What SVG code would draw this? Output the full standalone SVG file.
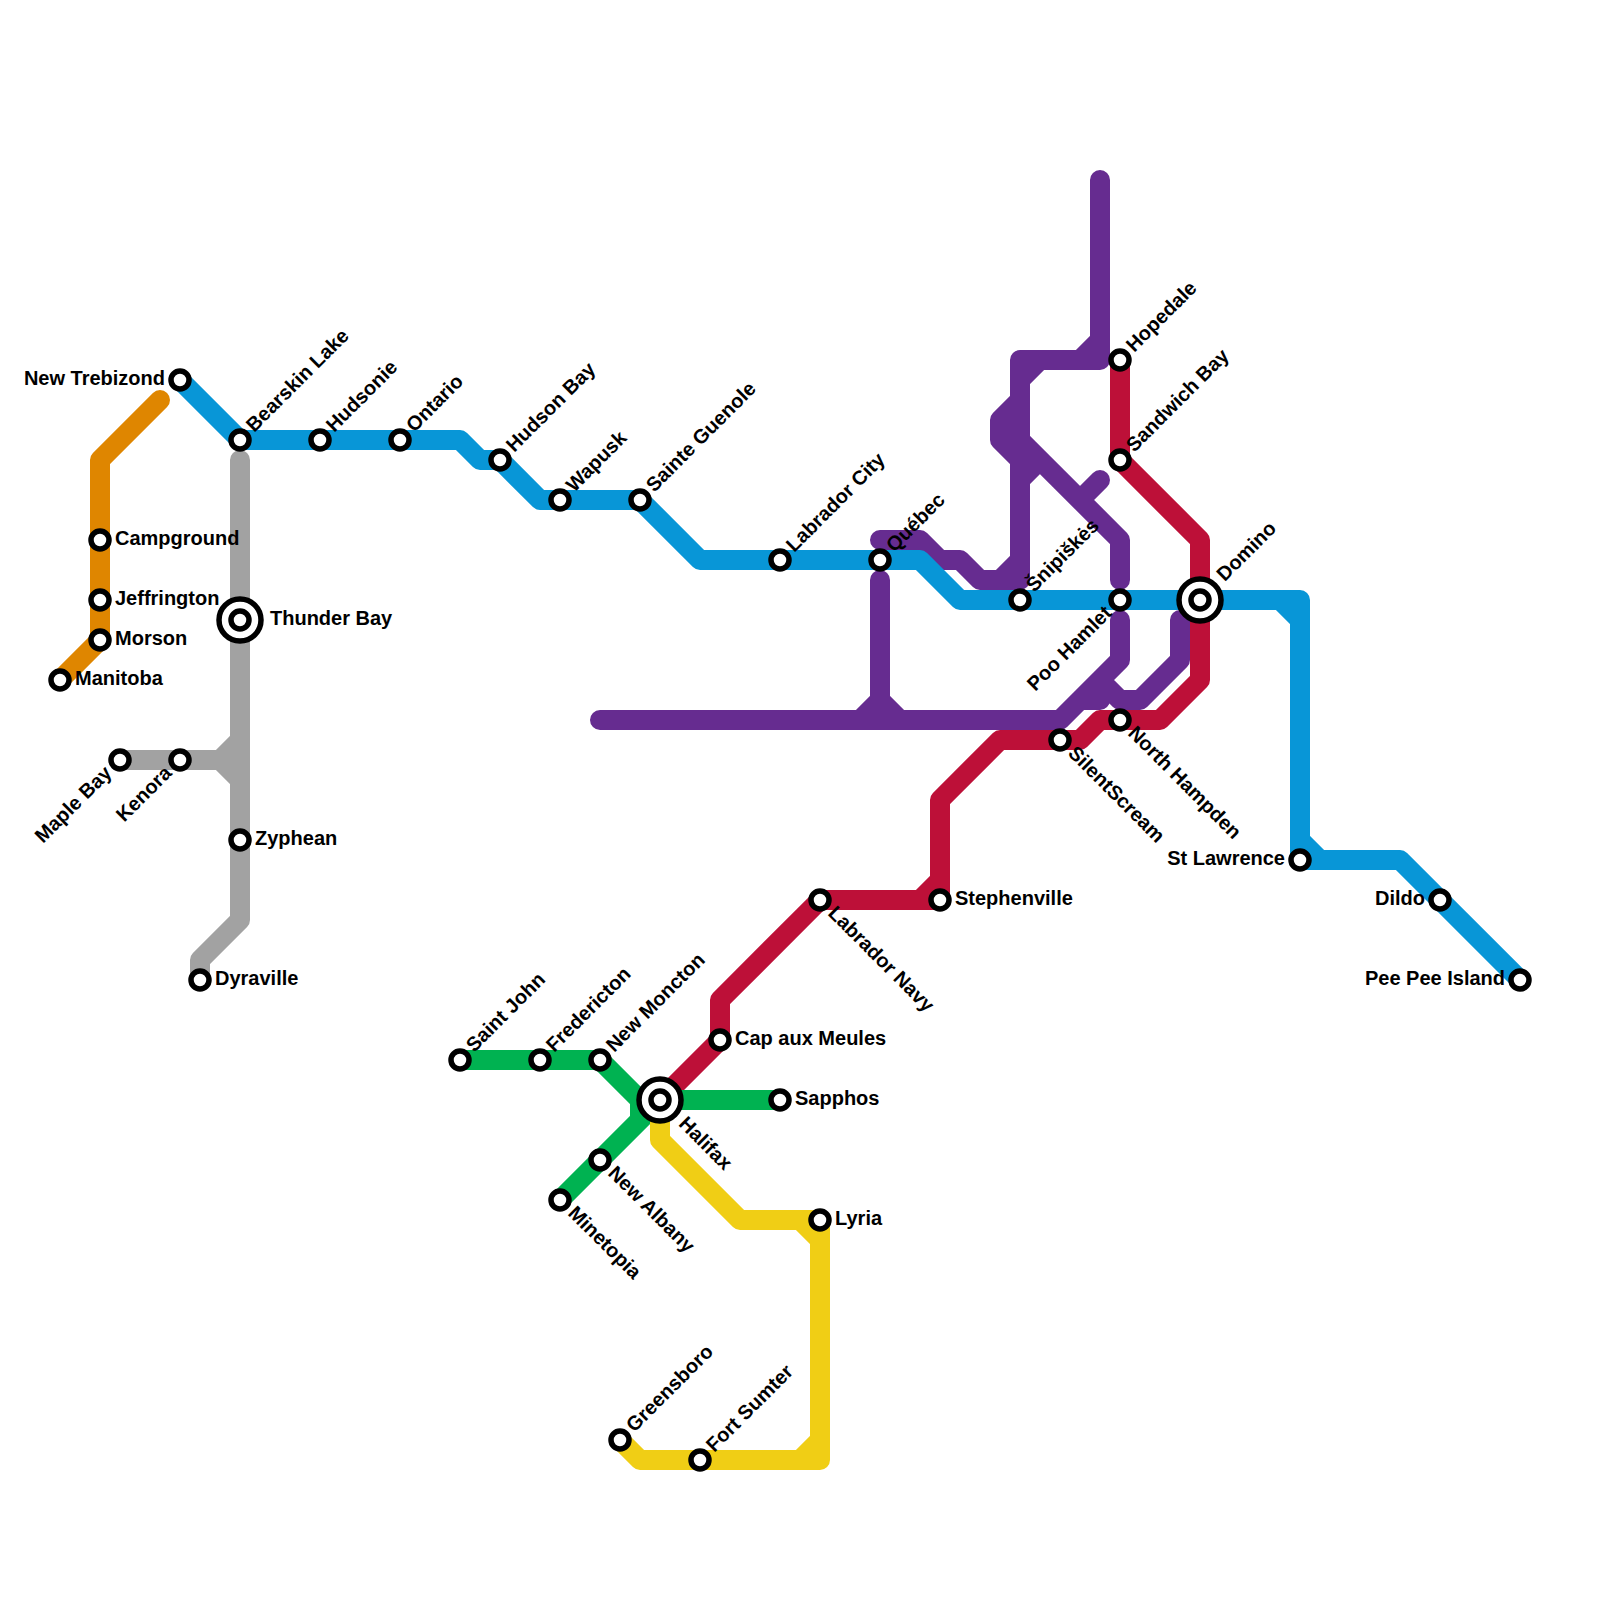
<svg xmlns="http://www.w3.org/2000/svg" width="1600" height="1600" viewBox="0 0 1600 1600">
<style>
.l{fill:none;stroke-width:20;stroke-linecap:round;stroke-linejoin:round}
.s{fill:#fff;stroke:#000;stroke-width:5.5}
text{font-family:"Liberation Sans",Arial,sans-serif;font-weight:700;font-size:20px;fill:#000}
.e{text-anchor:end}
</style>
<rect width="1600" height="1600" fill="#fff"/>
<g id="connectors">
<path class="l" stroke="#662c90" d="M600 720H1060L1120 660V620M1080 700H1100M1100 680L1120 700H1140L1180 660V620M860 720L880 700L900 720M880 700V580M880 540H920L940 560H960L980 580H1000L1020 560M1000 580H1020V360H1100V180M1080 360L1100 340M1020 380L1040 360M1020 400L1000 420V440L1020 460M1020 440L1120 540V580M1020 480L1040 460M1080 500L1100 480"/>
<path class="l" stroke="#bd1038" d="M660 1100L720 1040V1000L820 900H940V800L1000 740H1080L1100 720H1160L1200 680V540L1120 460V360M920 900L940 880"/>
<path class="l" stroke="#0896d7" d="M180 380L240 440H460L480 460H500L540 500H640L700 560H920L960 600H1300V860H1400L1520 980M1280 600L1300 620M1300 840L1320 860"/>
<path class="l" stroke="#00b251" d="M460 1060H600L640 1100V1120M660 1100L560 1200M660 1100H780"/>
<path class="l" stroke="#f0ce15" d="M660 1100V1140L740 1220H820V1460H640L620 1440M800 1220L820 1240M800 1460L820 1440"/>
<path class="l" stroke="#a2a2a2" d="M240 460V920L200 960V980M120 760H240M220 760L240 740M220 760L240 780"/>
<path class="l" stroke="#df8600" d="M160 400L100 460V640L60 680"/>
</g>
<g id="n1"><circle class="s" cx="180" cy="380" r="9"/><text class="e" x="165" y="385">New Trebizond</text></g>
<g id="n2"><circle class="s" cx="240" cy="440" r="9"/><text transform="translate(240 440) rotate(-45)" x="15" y="5">Bearskin Lake</text></g>
<g id="n3"><circle class="s" cx="320" cy="440" r="9"/><text transform="translate(320 440) rotate(-45)" x="15" y="5">Hudsonie</text></g>
<g id="n4"><circle class="s" cx="400" cy="440" r="9"/><text transform="translate(400 440) rotate(-45)" x="15" y="5">Ontario</text></g>
<g id="n5"><circle class="s" cx="500" cy="460" r="9"/><text transform="translate(500 460) rotate(-45)" x="15" y="5">Hudson Bay</text></g>
<g id="n6"><circle class="s" cx="560" cy="500" r="9"/><text transform="translate(560 500) rotate(-45)" x="15" y="5">Wapusk</text></g>
<g id="n7"><circle class="s" cx="640" cy="500" r="9"/><text transform="translate(640 500) rotate(-45)" x="15" y="5">Sainte Guenole</text></g>
<g id="n8"><circle class="s" cx="780" cy="560" r="9"/><text transform="translate(780 560) rotate(-45)" x="15" y="5">Labrador City</text></g>
<g id="n9"><circle class="s" cx="880" cy="560" r="9"/><text transform="translate(880 560) rotate(-45)" x="15" y="5">Québec</text></g>
<g id="n10"><circle class="s" cx="1020" cy="600" r="9"/><text transform="translate(1020 600) rotate(-45)" x="15" y="5">Šnipiškės</text></g>
<g id="n11"><circle class="s" cx="1120" cy="360" r="9"/><text transform="translate(1120 360) rotate(-45)" x="15" y="5">Hopedale</text></g>
<g id="n12"><circle class="s" cx="1120" cy="460" r="9"/><text transform="translate(1120 460) rotate(-45)" x="15" y="5">Sandwich Bay</text></g>
<g id="n13"><circle class="s" cx="1120" cy="600" r="9"/><text class="e" transform="translate(1120 600) rotate(-45)" x="-15" y="5">Poo Hamlet</text></g>
<g id="n14"><circle class="s" cx="1200" cy="600" r="21"/><circle class="s" cx="1200" cy="600" r="9"/><text transform="translate(1200 600) rotate(-45)" x="30" y="5">Domino</text></g>
<g id="n15"><circle class="s" cx="1120" cy="720" r="9"/><text transform="translate(1120 720) rotate(45)" x="15" y="5">North Hampden</text></g>
<g id="n16"><circle class="s" cx="1060" cy="740" r="9"/><text transform="translate(1060 740) rotate(45)" x="15" y="5">SilentScream</text></g>
<g id="n17"><circle class="s" cx="1300" cy="860" r="9"/><text class="e" x="1285" y="865">St Lawrence</text></g>
<g id="n18"><circle class="s" cx="1440" cy="900" r="9"/><text class="e" x="1425" y="905">Dildo</text></g>
<g id="n19"><circle class="s" cx="1520" cy="980" r="9"/><text class="e" x="1505" y="985">Pee Pee Island</text></g>
<g id="n20"><circle class="s" cx="940" cy="900" r="9"/><text x="955" y="905">Stephenville</text></g>
<g id="n21"><circle class="s" cx="820" cy="900" r="9"/><text transform="translate(820 900) rotate(45)" x="15" y="5">Labrador Navy</text></g>
<g id="n22"><circle class="s" cx="720" cy="1040" r="9"/><text x="735" y="1045">Cap aux Meules</text></g>
<g id="n23"><circle class="s" cx="660" cy="1100" r="21"/><circle class="s" cx="660" cy="1100" r="9"/><text transform="translate(660 1100) rotate(45)" x="30" y="5">Halifax</text></g>
<g id="n24"><circle class="s" cx="780" cy="1100" r="9"/><text x="795" y="1105">Sapphos</text></g>
<g id="n25"><circle class="s" cx="460" cy="1060" r="9"/><text transform="translate(460 1060) rotate(-45)" x="15" y="5">Saint John</text></g>
<g id="n26"><circle class="s" cx="540" cy="1060" r="9"/><text transform="translate(540 1060) rotate(-45)" x="15" y="5">Fredericton</text></g>
<g id="n27"><circle class="s" cx="600" cy="1060" r="9"/><text transform="translate(600 1060) rotate(-45)" x="15" y="5">New Moncton</text></g>
<g id="n28"><circle class="s" cx="600" cy="1160" r="9"/><text transform="translate(600 1160) rotate(45)" x="15" y="5">New Albany</text></g>
<g id="n29"><circle class="s" cx="560" cy="1200" r="9"/><text transform="translate(560 1200) rotate(45)" x="15" y="5">Minetopia</text></g>
<g id="n30"><circle class="s" cx="820" cy="1220" r="9"/><text x="835" y="1225">Lyria</text></g>
<g id="n31"><circle class="s" cx="620" cy="1440" r="9"/><text transform="translate(620 1440) rotate(-45)" x="15" y="5">Greensboro</text></g>
<g id="n32"><circle class="s" cx="700" cy="1460" r="9"/><text transform="translate(700 1460) rotate(-45)" x="15" y="5">Fort Sumter</text></g>
<g id="n33"><circle class="s" cx="100" cy="540" r="9"/><text x="115" y="545">Campground</text></g>
<g id="n34"><circle class="s" cx="100" cy="600" r="9"/><text x="115" y="605">Jeffrington</text></g>
<g id="n35"><circle class="s" cx="100" cy="640" r="9"/><text x="115" y="645">Morson</text></g>
<g id="n36"><circle class="s" cx="60" cy="680" r="9"/><text x="75" y="685">Manitoba</text></g>
<g id="n37"><circle class="s" cx="240" cy="620" r="21"/><circle class="s" cx="240" cy="620" r="9"/><text x="270" y="625">Thunder Bay</text></g>
<g id="n38"><circle class="s" cx="120" cy="760" r="9"/><text class="e" transform="translate(120 760) rotate(-45)" x="-15" y="5">Maple Bay</text></g>
<g id="n39"><circle class="s" cx="180" cy="760" r="9"/><text class="e" transform="translate(180 760) rotate(-45)" x="-15" y="5">Kenora</text></g>
<g id="n40"><circle class="s" cx="240" cy="840" r="9"/><text x="255" y="845">Zyphean</text></g>
<g id="n41"><circle class="s" cx="200" cy="980" r="9"/><text x="215" y="985">Dyraville</text></g>
</svg>
